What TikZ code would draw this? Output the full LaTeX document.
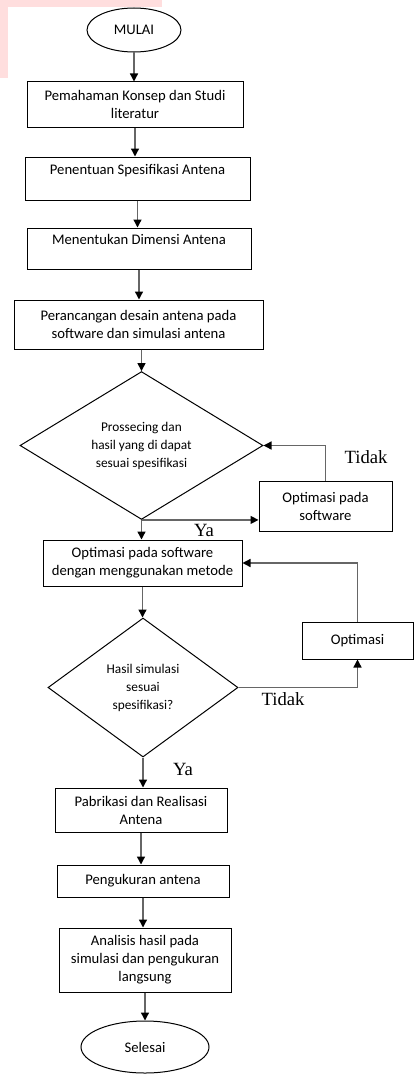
\documentclass[tikz,border=0pt]{standalone}
\usepackage{fontspec}
\setmainfont{Carlito}
\newfontfamily\seriffont{Liberation Serif}
\usetikzlibrary{shapes.geometric, arrows.meta}
\def\pxu{0.75pt}

\begin{document}
\begin{tikzpicture}[x=0.75pt,y=-0.75pt,
	every node/.style={font=\fontsize{11}{13.5}\selectfont},
	box/.style={draw,rectangle,inner sep=0pt,align=center,line width=0.75pt},
	term/.style={draw,ellipse,inner sep=0pt,line width=0.75pt},
	cond/.style={draw,diamond,inner sep=0pt,align=center,line width=0.75pt,font=\fontsize{10}{13.5}\selectfont},
	lbl/.style={font=\seriffont\fontsize{14}{16}\selectfont},
	arr/.style={-{Triangle[length=6pt,width=6pt,color=black]},draw=black!60,line width=1pt}]
		\useasboundingbox (0,0) rectangle (414,1074);
		% Corner mark
		\fill[red!13] (0,0) rectangle (162,7);
		\fill[red!13] (0,0) rectangle (8,78);
		% Main column
		\node[term,minimum width=94*\pxu,minimum height=44*\pxu] (mulai) at (134,30) {MULAI};
		\node[box,minimum width=216*\pxu,minimum height=45*\pxu] (konsep) at (135,104.5) {Pemahaman Konsep dan Studi\\literatur};
		\node[box,minimum width=225*\pxu,minimum height=43*\pxu] (spek) at (137.5,178.5) {Penentuan Spesifikasi Antena\\\mbox{}};
		\node[box,minimum width=224*\pxu,minimum height=41*\pxu] (dimensi) at (139,248.5) {Menentukan Dimensi Antena\\\mbox{}};
		\node[box,minimum width=249*\pxu,minimum height=49*\pxu] (desain) at (138.5,324.5) {Perancangan desain antena pada\\software dan simulasi antena};
		\node[cond,minimum width=243*\pxu,minimum height=133*\pxu] (proses) at (141.5,445.5) {Prossecing dan\\hasil yang di dapat\\sesuai spesifikasi};
		\node[box,minimum width=199*\pxu,minimum height=46*\pxu] (metode) at (142.5,563) {Optimasi pada software\\dengan menggunakan metode};
		\node[cond,minimum width=190*\pxu,minimum height=139*\pxu] (hasil) at (143,687.5) {Hasil simulasi\\sesuai\\spesifikasi?};
		\node[box,minimum width=172*\pxu,minimum height=44*\pxu] (pabrik) at (141,810) {Pabrikasi dan Realisasi\\Antena};
		\node[box,minimum width=172*\pxu,minimum height=32*\pxu] (ukur) at (143,881) {Pengukuran antena};
		\node[box,minimum width=172*\pxu,minimum height=64*\pxu] (analisis) at (145,960) {Analisis hasil pada\\simulasi dan pengukuran\\langsung};
		\node[term,minimum width=128*\pxu,minimum height=52*\pxu] (selesai) at (145,1047) {Selesai};
		% Loop boxes
		\node[box,minimum width=133*\pxu,minimum height=50*\pxu] (optsw) at (325.5,506) {Optimasi pada\\software};
		\node[box,minimum width=111*\pxu,minimum height=37*\pxu] (optim) at (357.5,640.5) {Optimasi};
		% Labels
		\node[lbl] (tidaka) at (366,457) {Tidak};
		\node[lbl] (yaa) at (204,530) {Ya};
		\node[lbl] (tidakb) at (283,699) {Tidak};
		\node[lbl] (yab) at (183,769) {Ya};
		% Draw arrows
		\draw[arr] (mulai) -- (mulai |- konsep.north);
		\draw[arr] (konsep) -- (konsep |- spek.north);
		\draw[arr] (spek) -- (spek |- dimensi.north);
		\draw[arr] (dimensi) -- (dimensi |- desain.north);
		\draw[arr] (proses.north |- desain.south) -- (proses.north);
		\draw[arr] (proses.south) -- (proses.south -| optsw.west);
		\draw[arr] (optsw.north) |- (proses.east);
		\draw[arr] (proses.south) -- (proses.south |- metode.north);
		\draw[arr] (metode) -- (metode |- hasil.north);
		\draw[arr] (hasil.east) -| (optim.south);
		\draw[arr] (optim.north) |- (metode.east);
		\draw[arr] (hasil.south) -- (hasil.south |- pabrik.north);
		\draw[arr] (pabrik) -- (pabrik |- ukur.north);
		\draw[arr] (ukur) -- (ukur |- analisis.north);
		\draw[arr] (analisis) -- (analisis |- selesai.north);
	\end{tikzpicture}
\end{document}
